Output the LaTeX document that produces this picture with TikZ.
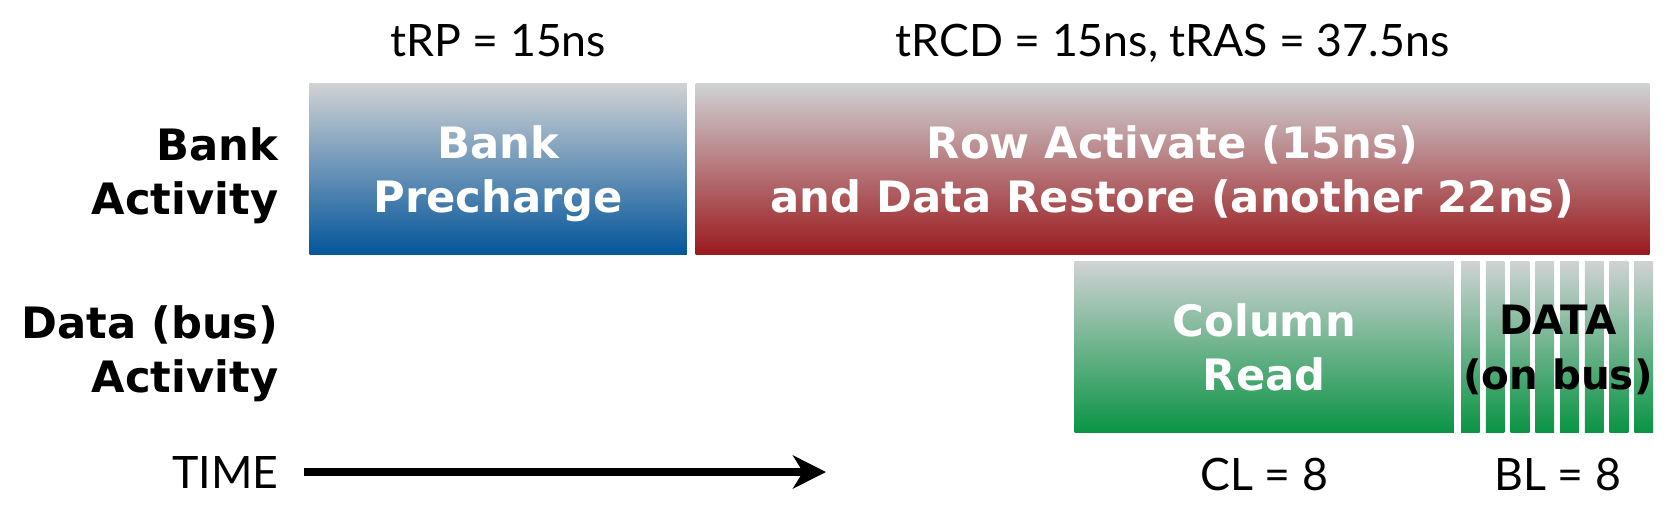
\documentclass[tikz,border=0pt]{standalone}
\usepackage{fontspec}
\setmainfont{Lato}
\newfontfamily\heavyfont{DejaVu Sans}
\usetikzlibrary{arrows.meta, positioning, calc, backgrounds}
\definecolor{ctop}{HTML}{D0D2D4}
\definecolor{cblue}{HTML}{03559A}
\definecolor{cred}{HTML}{9A191D}
\definecolor{cgreen}{HTML}{0A9444}
\tikzset{
  every picture/.style={x=0.01cm, y=0.01cm},
  heavy/.style={font=\heavyfont\bfseries\fontsize{12.3}{15.4}\selectfont},
  phase/.style={top color=ctop, bottom color=#1, anchor=north west, inner sep=0pt,
    minimum height=1.71cm, align=center, text=white, text depth=0pt, heavy},
  bus/.style={anchor=north west, inner sep=0pt, minimum width=1.92cm, minimum height=1.71cm,
    align=center, text depth=0pt, font=\heavyfont\bfseries\fontsize{11.5}{15.4}\selectfont},
  side/.style={heavy, align=right, anchor=east, inner sep=0pt},
  timing/.style={font=\fontsize{12.7}{15}\selectfont, inner sep=0pt},
  timeline/.style={-{Stealth[length=0.33cm, width=0.33cm, inset=0.1cm]}, line width=0.083cm},
}

\begin{document}
\begin{tikzpicture}
  \useasboundingbox (0,0) rectangle (1671,-524);
  \node[side] (bank) at (279,-176) {Bank\\Activity};
  \node[side] (dbus) at (279,-354) {Data (bus)\\Activity};
  \node[phase=cblue, minimum width=3.77cm] (pre) at (309,-83) {Bank\\Precharge};
  \node[phase=cred, minimum width=9.53cm] (act) at (695,-83) {Row Activate (15ns)\\and Data Restore (another 22ns)};
  \node[phase=cgreen, minimum width=3.79cm] (col) at (1074,-261) {Column\\Read};
  \node[bus] (data) at (1461,-261) {DATA\\(on bus)};
  \begin{scope}[on background layer]
    \foreach \i in {0,...,7}
      \shade[top color=ctop, bottom color=cgreen] ($(data.north west)+(\i*24.76,0)$) rectangle ++(18.7,-171);
  \end{scope}
  \node[timing, above=0.26cm of pre, anchor=base] (trp) {tRP = 15ns};
  \node[timing, above=0.26cm of act, anchor=base] (tras) {tRCD = 15ns, tRAS = 37.5ns};
  \node[timing, below=0.57cm of col, anchor=base] (cl) {CL = 8};
  \node[timing, below=0.57cm of data, anchor=base] (bl) {BL = 8};
  \node[timing, anchor=base east] (time) at (279,-488) {TIME};
  \coordinate (tend) at ($(time.east)+(547,0)$);
  \draw[timeline, shorten <=0.25cm] (time) -- (tend);
\end{tikzpicture}
\end{document}
